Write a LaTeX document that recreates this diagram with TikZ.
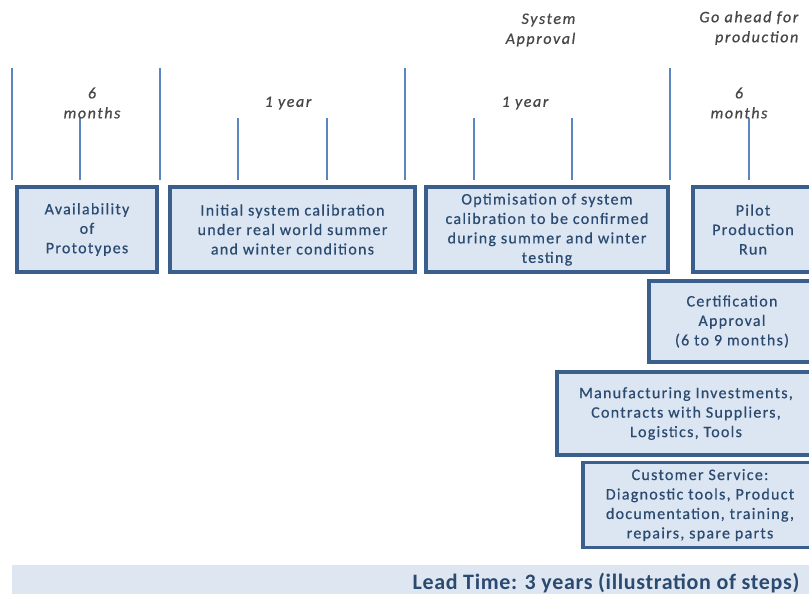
\documentclass[tikz,border=0pt]{standalone}
\usepackage{fontspec}
\setmainfont{Carlito}
\usetikzlibrary{calc}

\definecolor{boxfill}{HTML}{DCE6F2}
\definecolor{boxline}{HTML}{3A5F8D}
\definecolor{boxtext}{HTML}{2B4A70}
\definecolor{tickline}{HTML}{5B85BF}
\definecolor{barfill}{HTML}{DEE7F1}

\begin{document}
\begin{tikzpicture}[x=0.75pt, y=-0.75pt]
    \tikzstyle{every node}=[font=\fontsize{12}{14.6}\selectfont\addfontfeature{LetterSpace=8,FakeBold=0.5}, text=boxtext]
    \tikzstyle{stepbox}=[draw=boxline, fill=boxfill, line width=2.6pt,
        align=center, inner sep=0pt, minimum height=63.75pt]
    \tikzstyle{tick}=[draw=tickline, line width=1.6pt]
    \tikzstyle{timelabel}=[font=\itshape\fontsize{12}{15}\selectfont\addfontfeature{LetterSpace=10,FakeBold=0.8},
        text=black!72, align=center]

      \useasboundingbox (0,0) rectangle (809,594);
      \clip (0,0) rectangle (809,594);

      % long ticks between the phases
      \coordinate (T1) at (12,68);
      \coordinate (T2) at (160,68);
      \coordinate (T3) at (405,68);
      \coordinate (T4) at (670,68);
      \foreach \t in {T1,T2,T3,T4}
        \draw[tick] (\t) -- ++(0,112);

      % short ticks
      \foreach \x in {80,238,327,474,572,749}
        \draw[tick] (\x,118) -- (\x,180);

      % durations
      \node[timelabel] (d1) at (92,103) {6\\months};
      \node[timelabel] (d2) at (288,103) {1 year};
      \node[timelabel] (d3) at (525,103) {1 year};
      \node[timelabel] (d4) at (739,103) {6\\months};

      % milestones
      \node[timelabel, align=right, anchor=east] (m1) at (580,30) {System\\Approval};
      \node[timelabel, align=right, anchor=east] (m2) at (803,28) {Go ahead for\\production};

      % steps
      \node[stepbox, minimum width=105pt] (proto) at (87,229.5)
          {Availability\\of\\Prototypes};
      \node[stepbox, minimum width=183.75pt] (calib) at (292.5,229.5)
          {Initial system calibration\\under real world summer\\and winter conditions};
      \node[stepbox, minimum width=181.5pt] (optim) at (547,229.5)
          {Optimisation of system\\calibration to be confirmed\\during summer and winter\\testing};
      \node[stepbox, minimum width=90pt] (pilot) at (753,229.5)
          {Pilot\\Production\\Run};

      % parallel tasks
      \node[stepbox, minimum width=124.5pt, minimum height=60.75pt] (cert) at (732,321.5)
          {Certification\\Approval\\(6 to 9 months)};
      \node[stepbox, minimum width=193.5pt, minimum height=62.25pt] (manuf) at (686,413.5)
          {Manufacturing Investments,\\Contracts with Suppliers,\\Logistics, Tools};
      \node[stepbox, minimum width=175.5pt] (service) at (700,505)
          {Customer Service:\\Diagnostic tools, Product\\documentation, training,\\repairs, spare parts};

      % lead time bar
      \fill[barfill] (12,565) rectangle (809,594);
      \node[anchor=east, font=\bfseries\fontsize{16.5}{18}\selectfont\addfontfeature{LetterSpace=3}] (lead) at (804,583)
          {Lead Time: 3 years (illustration of steps)};

\end{tikzpicture}
\end{document}
